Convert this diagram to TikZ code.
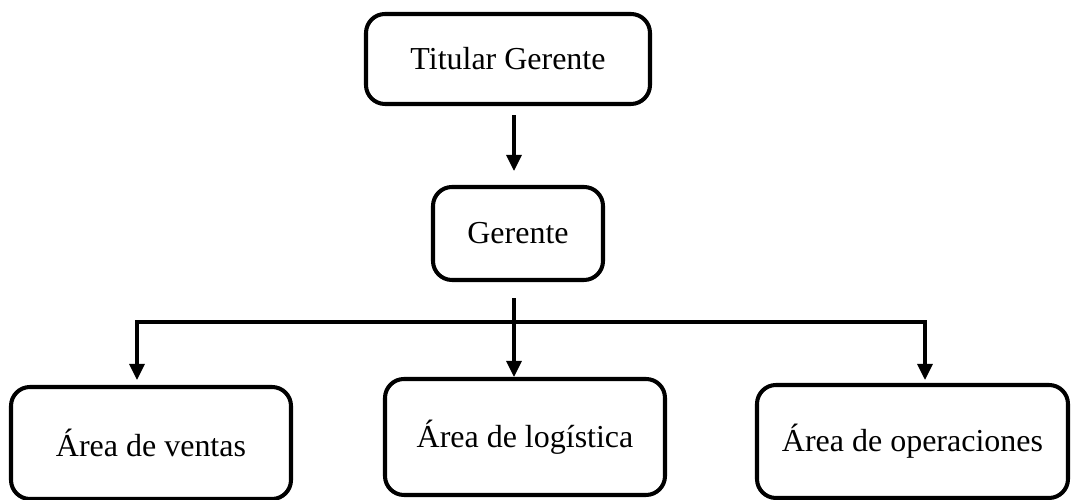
\documentclass[tikz,border=0pt]{standalone}
\usepackage{fontspec}
\setmainfont{Liberation Serif}
\usetikzlibrary{arrows.meta}

\begin{document}
\begin{tikzpicture}[font=\fontsize{9.1}{11}\selectfont,
    caja/.style={draw,line width=1.15pt,rounded corners=1.9mm,align=center,inner sep=0pt},
    flecha/.style={line width=0.9pt,-{Triangle[length=1.6mm,width=1.5mm]}}]
      \useasboundingbox (0,0) rectangle (10.73,5);
      \node[caja,minimum width=2.84cm,minimum height=0.90cm] (tit) at (5.08,4.41) {Titular Gerente};
      \node[caja,minimum width=1.70cm,minimum height=0.93cm] (ger) at (5.18,2.665) {Gerente};
      \node[caja,minimum width=2.80cm,minimum height=1.12cm] (ven) at (1.51,0.57) {\'Area de ventas};
      \node[caja,minimum width=2.80cm,minimum height=1.16cm] (log) at (5.25,0.63) {\'Area de log\'istica};
      \node[caja,minimum width=3.11cm,minimum height=1.13cm] (ope) at (9.125,0.585) {\'Area de operaciones};
      \coordinate (mid) at (5.14,1.78);
      \coordinate (lft) at (1.37,1.78);
      \coordinate (rgt) at (9.25,1.78);
      \draw[flecha,shorten <=0.9mm,shorten >=1.4mm] (tit.south -| mid) -- (ger.north -| mid);
      \draw[flecha,shorten <=1.6mm] (ger.south -| mid) -- (log.north -| mid);
      \draw[flecha,shorten >=0.5mm] (mid) -| (lft |- ven.north);
      \draw[flecha,shorten >=0.3mm] (mid) -| (rgt |- ope.north);
\end{tikzpicture}
\end{document}
